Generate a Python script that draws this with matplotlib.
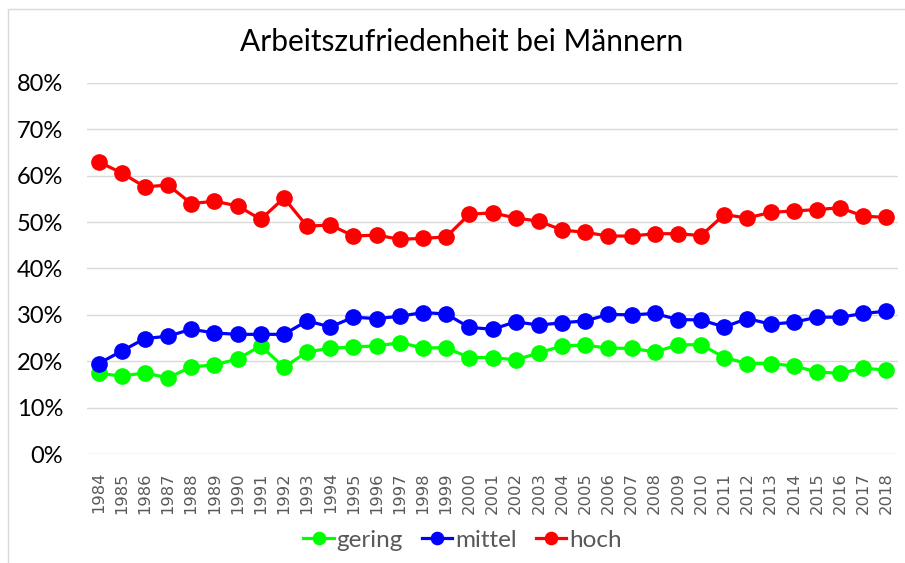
import matplotlib
matplotlib.use("Agg")
import matplotlib.pyplot as plt
from matplotlib.patches import Rectangle
from matplotlib.ticker import FuncFormatter
import numpy as np

years = [str(y) for y in range(1984, 2019)]

gering = [17.4, 16.8, 17.5, 16.4, 18.8, 19.2, 20.5, 23.3, 18.7, 22.0,
          22.8, 23.1, 23.3, 24.0, 22.9, 22.9, 20.8, 20.8, 20.3, 21.8,
          23.3, 23.5, 22.8, 22.8, 22.0, 23.5, 23.6, 20.8, 19.5, 19.5,
          19.0, 17.7, 17.4, 18.5, 18.1]
mittel = [19.5, 22.2, 24.9, 25.4, 26.9, 26.1, 25.8, 25.8, 25.8, 28.7,
          27.4, 29.5, 29.2, 29.7, 30.5, 30.2, 27.3, 26.9, 28.5, 27.8,
          28.3, 28.7, 30.1, 30.0, 30.3, 29.0, 28.9, 27.4, 29.2, 28.0,
          28.4, 29.5, 29.5, 30.3, 30.8]
hoch = [63.0, 60.6, 57.6, 58.0, 54.0, 54.5, 53.5, 50.6, 55.2, 49.1,
        49.4, 47.0, 47.2, 46.3, 46.5, 46.8, 51.7, 52.0, 50.9, 50.2,
        48.3, 47.8, 47.0, 47.0, 47.5, 47.5, 47.1, 51.6, 50.9, 52.1,
        52.4, 52.7, 53.1, 51.3, 51.0]

series = [("gering", gering, "#00ff00"),
          ("mittel", mittel, "#0000ff"),
          ("hoch", hoch, "#ff0000")]

fig = plt.figure(figsize=(9.05, 5.63), dpi=100)
ax = fig.add_axes([0.0961, 0.1936, 0.8962, 0.659])

# chart area frame
fig.patches.append(Rectangle((7.5 / 905, -0.01), 1.0, 1 - 9 / 563 + 0.01,
                             transform=fig.transFigure, fill=False,
                             edgecolor="#d9d9d9", linewidth=1))

x = np.arange(len(years))
for name, vals, col in series:
    ax.plot(x, vals, color=col, linewidth=2.3, marker="o", markersize=11,
            label=name, zorder=3)

ax.set_xlim(-0.5, len(years) - 0.5)
ax.set_ylim(0, 80)
ax.set_yticks(np.arange(0, 81, 10))
ax.yaxis.set_major_formatter(FuncFormatter(lambda v, p: f"{v:.0f}%"))
ax.grid(axis="y", color="#d9d9d9", linewidth=1)
ax.set_axisbelow(True)
for s in ax.spines.values():
    s.set_visible(False)
ax.tick_params(axis="both", length=0)
ax.tick_params(axis="y", pad=17, labelsize=17, labelcolor="black")
for lbl in ax.get_yticklabels():
    lbl.set_family("Lato")

ax.set_xticks(x)
ax.set_xticklabels(years, rotation=90, fontsize=11.8, color="#595959",
                   family="DejaVu Sans")
ax.tick_params(axis="x", pad=13)

fig.text(0.51, 0.925, "Arbeitszufriedenheit bei Männern", ha="center",
         va="center", fontsize=21.5, family="Lato", color="black")

leg = fig.legend(loc="center", bbox_to_anchor=(0.511, 0.04), ncol=3,
                 frameon=False, prop={"family": "Lato", "size": 17.5},
                 handlelength=1.25, handletextpad=0.1, columnspacing=0.8,
                 markerscale=0.8)
for t in leg.get_texts():
    t.set_color("#595959")

fig.savefig("out.png", dpi=100)
